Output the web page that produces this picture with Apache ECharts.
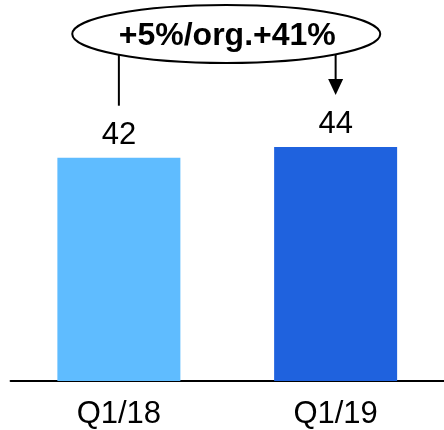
<!DOCTYPE html>
<html>
<head>
<meta charset="utf-8">
<script src="https://cdn.jsdelivr.net/npm/echarts@6/dist/echarts.min.js"></script>
<style>
  html, body { margin: 0; padding: 0; background: #fff; }
  #chart { width: 444px; height: 430px; }
</style>
</head>
<body>
<div id="chart"></div>
<script>
// Quarterly figures
const categories = ['Q1/18', 'Q1/19'];
const values = [42, 44];
const barColors = ['#5fbcff', '#1f62de'];
const changeText = '+5%/org.+41%';

const FONT = 'Liberation Sans, Arial, Helvetica, sans-serif';

const chart = echarts.init(document.getElementById('chart'), null, { renderer: 'canvas' });

chart.setOption({
  animation: false,
  backgroundColor: '#ffffff',
  grid: { left: 10.5, width: 440, top: 62, bottom: 45.5, containLabel: false },
  xAxis: {
    type: 'category',
    data: categories,
    axisLine: { show: true, lineStyle: { color: '#000', width: 1.8 } },
    axisTick: { show: false },
    axisLabel: { color: '#000', fontSize: 31, fontFamily: FONT, margin: 18 }
  },
  yAxis: {
    type: 'value',
    min: 0,
    max: 60,
    show: false,
    splitLine: { show: false }
  },
  series: [{
    type: 'bar',
    barWidth: 123,
    data: values.map((v, i) => ({ value: v, itemStyle: { color: barColors[i] } })),
    label: {
      show: true,
      position: 'top',
      distance: 7,
      color: '#000',
      fontSize: 31,
      fontFamily: FONT
    }
  }]
});

// Change annotation: ellipse bubble with a connector to each bar's label
function drawAnnotation() {
  const p0 = chart.convertToPixel({ xAxisIndex: 0, yAxisIndex: 0 }, [0, values[0]]);
  const p1 = chart.convertToPixel({ xAxisIndex: 0, yAxisIndex: 0 }, [1, values[1]]);
  const cx = (p0[0] + p1[0]) / 2 - 1;
  const cy = 34;
  const rx = 154, ry = 29;
  // y on the ellipse's lower edge at a given x
  const edgeY = x => cy + ry * Math.sqrt(Math.max(0, 1 - Math.pow((x - cx) / rx, 2)));
  const gap = 52;
  const end0 = p0[1] - gap;
  const end1 = p1[1] - gap;
  const headH = 16, headW = 15;

  chart.setOption({
    graphic: [
      {
        type: 'line',
        shape: { x1: p0[0], y1: edgeY(p0[0]), x2: p0[0], y2: end0 },
        style: { stroke: '#000', lineWidth: 2 },
        z: 10
      },
      {
        type: 'line',
        shape: { x1: p1[0], y1: edgeY(p1[0]), x2: p1[0], y2: end1 - headH + 2 },
        style: { stroke: '#000', lineWidth: 2 },
        z: 10
      },
      {
        type: 'polygon',
        shape: { points: [[p1[0] - headW / 2, end1 - headH], [p1[0] + headW / 2, end1 - headH], [p1[0], end1]] },
        style: { fill: '#000' },
        z: 10
      },
      {
        type: 'ellipse',
        shape: { cx: cx, cy: cy, rx: rx, ry: ry },
        style: { fill: '#fff', stroke: '#000', lineWidth: 2 },
        z: 11
      },
      {
        type: 'text',
        x: cx + 1,
        y: cy + 2,
        style: {
          text: changeText,
          fill: '#000',
          font: 'bold 32px ' + FONT,
          textAlign: 'center',
          textVerticalAlign: 'middle'
        },
        z: 12
      }
    ]
  });
}
drawAnnotation();
</script>
</body>
</html>
